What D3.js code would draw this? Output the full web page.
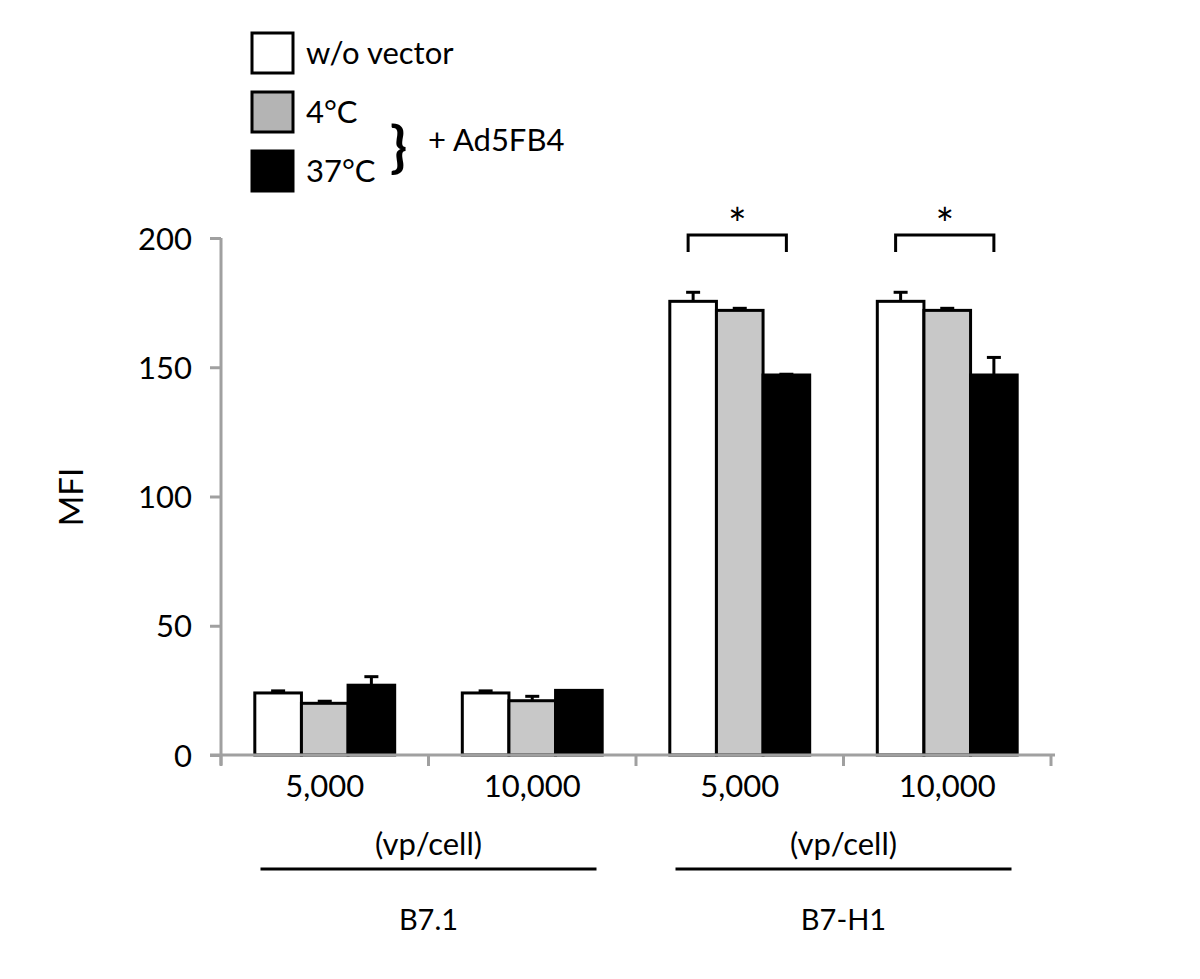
<!DOCTYPE html>
<html lang="en">
<head>
<meta charset="UTF-8">
<title>MFI</title>
<script src="https://d3js.org/d3.v7.min.js"></script>
<style>
  body { margin: 0; background: #fff; }
  svg text { font-family: Lato, "Open Sans", sans-serif; fill: #000; }
</style>
</head>
<body>
<svg id="chart" width="1200" height="979"></svg>
<script>
// data
var categories = ["B7.1 5,000", "B7.1 10,000", "B7-H1 5,000", "B7-H1 10,000"];
var catLabels = ["5,000", "10,000", "5,000", "10,000"];
var series = ["w/o vector", "4°C", "37°C"];
var seriesColors = ["#ffffff", "#c8c8c8", "#000000"];
var meanVals = [
  [24, 20, 27],
  [24, 21, 25],
  [175.5, 172, 147],
  [175.5, 172, 147]
];
var errVals = [
  [0.8, 0.8, 3.3],
  [0.8, 1.7, 0],
  [3.5, 0.8, 0.3],
  [3.5, 0.8, 6.8]
];
var yTicks = [0, 50, 100, 150, 200];
var groups = [
  {name: "B7.1", from: 0, to: 2},
  {name: "B7-H1", from: 2, to: 4}
];
var sigPairs = [2, 3]; // categories with * between w/o vector and 37°C

var svg = d3.select("#chart");
var plotL = 221, plotR = 1051, plotT = 238, plotB = 755;

var x = d3.scaleBand().domain(categories).range([plotL, plotR]).paddingInner(0).paddingOuter(0);
var xs = d3.scaleBand().domain(series).range([0, x.bandwidth()]).paddingInner(0).paddingOuter(0.725);
var y = d3.scaleLinear().domain([0, 200]).range([plotB, plotT]);

// y axis
var yAxis = svg.append("g")
    .attr("transform", "translate(" + plotL + ",0)")
    .call(d3.axisLeft(y).tickValues(yTicks).tickSize(11).tickPadding(18));
yAxis.select(".domain").attr("stroke", "#a0a0a0").attr("stroke-width", 3)
    .attr("d", "M0," + plotT + "V" + (plotB + 10));
yAxis.selectAll(".tick line").attr("stroke", "#a0a0a0").attr("stroke-width", 3);
yAxis.selectAll(".tick text").style("font-size", "31px").attr("dy", "0.36em");

// bars
var g = svg.append("g").selectAll("g")
    .data(meanVals)
    .enter().append("g")
    .attr("transform", function(d, i) { return "translate(" + x(categories[i]) + ",0)"; });

g.selectAll("rect")
    .data(function(d, i) { return d.map(function(v, j) { return {v: v, e: errVals[i][j], s: series[j], j: j}; }); })
    .enter().append("rect")
    .attr("x", function(d) { return xs(d.s); })
    .attr("width", xs.bandwidth())
    .attr("y", function(d) { return y(d.v); })
    .attr("height", function(d) { return y(0) - y(d.v); })
    .attr("fill", function(d) { return seriesColors[d.j]; })
    .attr("stroke", "#000")
    .attr("stroke-width", 3);

// error bars
g.selectAll("g.err")
    .data(function(d, i) { return d.map(function(v, j) { return {v: v, e: errVals[i][j], s: series[j]}; }); })
    .enter().append("g")
    .attr("class", "err")
    .each(function(d) {
      if (d.e <= 0) return;
      var cx = xs(d.s) + xs.bandwidth() / 2;
      var e = d3.select(this);
      e.append("line").attr("x1", cx).attr("x2", cx)
        .attr("y1", y(d.v)).attr("y2", y(d.v + d.e))
        .attr("stroke", "#000").attr("stroke-width", 3);
      e.append("line").attr("x1", cx - 7).attr("x2", cx + 7)
        .attr("y1", y(d.v + d.e)).attr("y2", y(d.v + d.e))
        .attr("stroke", "#000").attr("stroke-width", 3);
    });

// x axis
var xAxis = svg.append("g").attr("transform", "translate(0," + plotB + ")");
xAxis.append("line").attr("x1", plotL - 11).attr("x2", plotR + 4)
    .attr("stroke", "#a0a0a0").attr("stroke-width", 3);
xAxis.selectAll("line.tick")
    .data(d3.range(categories.length + 1))
    .enter().append("line")
    .attr("class", "tick")
    .attr("x1", function(i) { return plotL + i * x.bandwidth(); })
    .attr("x2", function(i) { return plotL + i * x.bandwidth(); })
    .attr("y1", 0).attr("y2", 11)
    .attr("stroke", "#a0a0a0").attr("stroke-width", 3);
xAxis.selectAll("text")
    .data(categories)
    .enter().append("text")
    .attr("x", function(d) { return x(d) + x.bandwidth() / 2; })
    .attr("y", 42)
    .attr("text-anchor", "middle")
    .style("font-size", "31px")
    .text(function(d, i) { return catLabels[i]; });

// group labels
groups.forEach(function(gr) {
  var mid = plotL + gr.from * x.bandwidth() + (gr.to - gr.from) * x.bandwidth() / 2;
  svg.append("text").attr("x", mid).attr("y", 855).attr("text-anchor", "middle")
    .style("font-size", "31px").text("(vp/cell)");
  svg.append("line").attr("x1", mid - 168).attr("x2", mid + 168)
    .attr("y1", 869).attr("y2", 869).attr("stroke", "#000").attr("stroke-width", 3);
  svg.append("text").attr("x", mid).attr("y", 930).attr("text-anchor", "middle")
    .style("font-size", "29px").text(gr.name);
});

// significance brackets
sigPairs.forEach(function(ci) {
  var x0 = x(categories[ci]) + xs(series[0]) + xs.bandwidth() / 2 - 5;
  var x1 = x(categories[ci]) + xs(series[2]) + xs.bandwidth() / 2;
  svg.append("path")
    .attr("d", "M" + x0 + ",252V235H" + x1 + "V252")
    .attr("fill", "none").attr("stroke", "#000").attr("stroke-width", 3);
  svg.append("text").attr("x", (x0 + x1) / 2).attr("y", 240).attr("text-anchor", "middle")
    .style("font-size", "44px").text("*");
});

// y label
svg.append("text")
    .attr("transform", "translate(83,497) rotate(-90)")
    .attr("text-anchor", "middle")
    .style("font-size", "33px")
    .text("MFI");

// legend
var legend = svg.append("g").attr("transform", "translate(252,33)");
series.forEach(function(s, i) {
  legend.append("rect").attr("x", 0).attr("y", i * 59).attr("width", 41).attr("height", 40)
    .attr("fill", i === 1 ? "#b4b4b4" : seriesColors[i]).attr("stroke", "#000").attr("stroke-width", 3);
  legend.append("text").attr("x", 54).attr("y", i * 59 + 31)
    .style("font-size", "31px").text(s);
});
legend.append("text").attr("x", 138).attr("y", 133)
    .style("font-size", "56px").style("font-weight", "bold").text("}");
legend.append("text").attr("x", 176).attr("y", 118)
    .style("font-size", "31px").text("+ Ad5FB4");
</script>
</body>
</html>
